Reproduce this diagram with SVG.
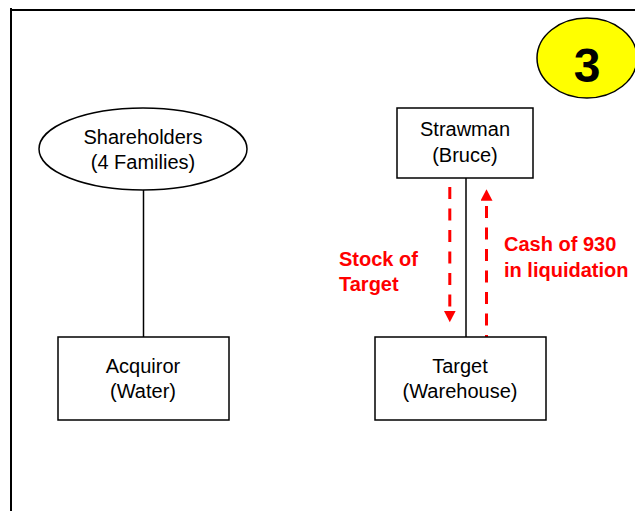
<svg xmlns="http://www.w3.org/2000/svg" width="635" height="511" viewBox="0 0 635 511">
<style>
.s{fill:#fff;stroke:#000;stroke-width:1.5}
.t{font-family:"Liberation Sans",Arial,sans-serif;font-size:20px;fill:#000;text-anchor:middle}
.r{font-family:"Liberation Sans",Arial,sans-serif;font-size:20px;font-weight:bold;fill:#f00}
.c{fill:none;stroke:#000;stroke-width:1.5}
.f{fill:none;stroke:#000;stroke-width:2}
.d{fill:none;stroke:#f00;stroke-width:3;stroke-dasharray:12 9.5}
</style>
<defs>
<marker id="a" markerUnits="userSpaceOnUse" markerWidth="12" markerHeight="12" refX="0" refY="6" orient="auto"><path d="M0 0L11.500 6L0 12Z" fill="#f00"/></marker>
</defs>
<rect width="635" height="511" fill="#fff"/>
<path class="f" d="M11 511V8M10 10H635"/>
<g id="connectors">
<path class="c" d="M143.500 190V337"/>
<path class="c" d="M466 178V337"/>
<path class="d" d="M449.800 187V310.700" marker-end="url(#a)"/>
<path class="d" stroke-dashoffset="10" d="M486.500 337V200.700" marker-end="url(#a)"/>
</g>
<g id="badge"><ellipse cx="587" cy="58" rx="50" ry="40" fill="#ff0" stroke="#000" stroke-width="1.500"/><text x="587" y="82" style="font-family:'Liberation Sans',Arial,sans-serif;font-size:48px;font-weight:bold;text-anchor:middle">3</text></g>
<g id="shareholders"><ellipse class="s" cx="143" cy="149" rx="104" ry="41"/><text class="t" x="143" y="144">Shareholders</text><text class="t" x="143" y="169">(4 Families)</text></g>
<g id="acquiror"><rect class="s" x="58" y="337" width="171" height="83"/><text class="t" x="143" y="373">Acquiror</text><text class="t" x="143" y="398">(Water)</text></g>
<g id="strawman"><rect class="s" x="397" y="108" width="136" height="70"/><text class="t" x="465" y="136">Strawman</text><text class="t" x="465" y="162">(Bruce)</text></g>
<g id="target"><rect class="s" x="375" y="337" width="171" height="83"/><text class="t" x="460" y="373">Target</text><text class="t" x="460" y="398">(Warehouse)</text></g>
<g id="label-stock"><text class="r" x="339" y="266">Stock of</text><text class="r" x="339" y="291">Target</text></g>
<g id="label-cash"><text class="r" x="504" y="251">Cash of 930</text><text class="r" x="504" y="277">in liquidation</text></g>
</svg>
